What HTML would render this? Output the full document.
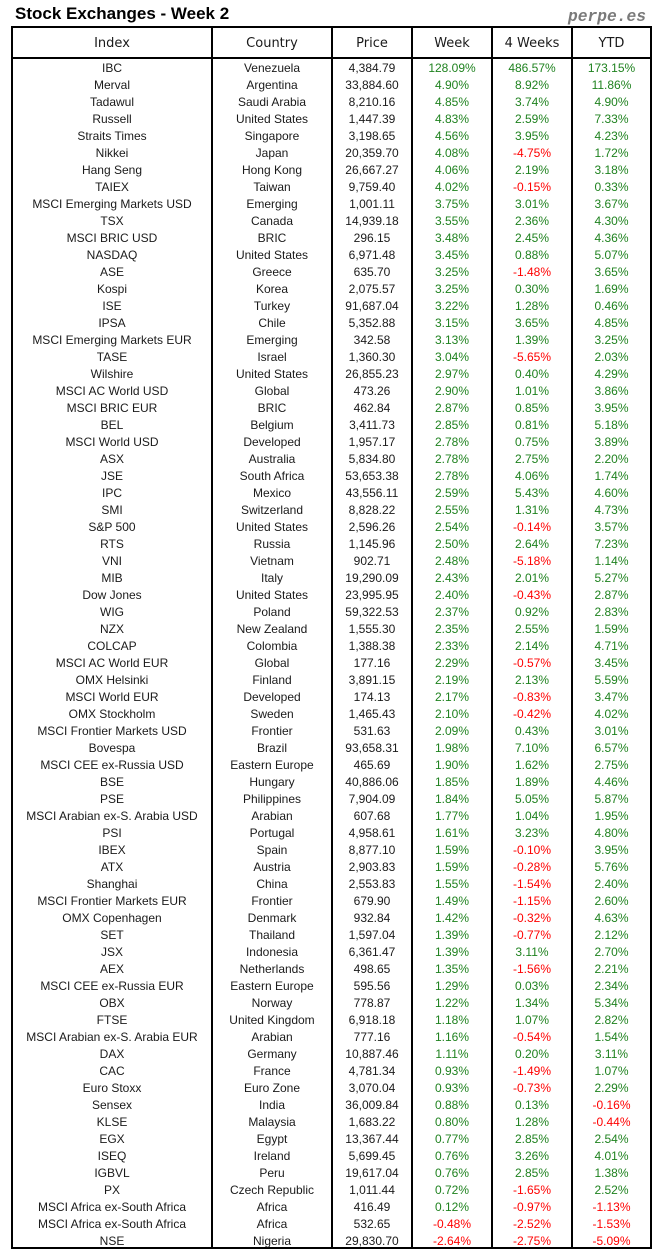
<!DOCTYPE html>
<html><head><meta charset="utf-8">
<style>
*{margin:0;padding:0;box-sizing:border-box}
body{width:664px;height:1260px;background:#fff;position:relative;overflow:hidden;font-family:"Liberation Sans",sans-serif;color:#1a1a1a}
.t{position:absolute;left:15px;top:4px;font:bold 17px/1.149 "Liberation Sans",sans-serif;color:#000;white-space:nowrap}
.p{position:absolute;left:568px;top:6.5px;font:italic bold 16.25px "Liberation Mono",monospace;color:#7a7a7a;white-space:nowrap}
.b{position:absolute;background:#000}
.h{position:absolute;left:12px;top:29px;height:29px;display:grid;grid-template-columns:200px 120px 80px 80px 80px 79px;font-family:"DejaVu Sans",sans-serif;font-size:13px;line-height:29px;text-align:center;color:#1a1a1a}
.rows{position:absolute;left:12px;top:60px}
.r{display:grid;grid-template-columns:200px 120px 80px 80px 80px 79px;height:17px;line-height:17px;font-size:12px;text-align:center;white-space:nowrap}
.g{color:#1f821f}
.n{color:#ff0000}
</style></head><body>
<div class="t">Stock Exchanges - Week 2</div>
<div class="p">perpe.es</div>
<div class="b" style="left:11px;top:26px;width:641px;height:2px"></div>
<div class="b" style="left:11px;top:57px;width:641px;height:2px"></div>
<div class="b" style="left:11px;top:1247px;width:641px;height:2px"></div>
<div class="b" style="left:11px;top:26px;width:2px;height:1223px"></div>
<div class="b" style="left:650px;top:26px;width:2px;height:1223px"></div>
<div class="b" style="left:211px;top:26px;width:2px;height:1223px"></div>
<div class="b" style="left:331px;top:26px;width:2px;height:1223px"></div>
<div class="b" style="left:411px;top:26px;width:2px;height:1223px"></div>
<div class="b" style="left:491px;top:26px;width:2px;height:1223px"></div>
<div class="b" style="left:571px;top:26px;width:2px;height:1223px"></div>
<div class="h"><span>Index</span><span>Country</span><span>Price</span><span>Week</span><span>4 Weeks</span><span>YTD</span></div>
<div class="rows">
<div class="r"><span>IBC</span><span>Venezuela</span><span>4,384.79</span><span class="g">128.09%</span><span class="g">486.57%</span><span class="g">173.15%</span></div>
<div class="r"><span>Merval</span><span>Argentina</span><span>33,884.60</span><span class="g">4.90%</span><span class="g">8.92%</span><span class="g">11.86%</span></div>
<div class="r"><span>Tadawul</span><span>Saudi Arabia</span><span>8,210.16</span><span class="g">4.85%</span><span class="g">3.74%</span><span class="g">4.90%</span></div>
<div class="r"><span>Russell</span><span>United States</span><span>1,447.39</span><span class="g">4.83%</span><span class="g">2.59%</span><span class="g">7.33%</span></div>
<div class="r"><span>Straits Times</span><span>Singapore</span><span>3,198.65</span><span class="g">4.56%</span><span class="g">3.95%</span><span class="g">4.23%</span></div>
<div class="r"><span>Nikkei</span><span>Japan</span><span>20,359.70</span><span class="g">4.08%</span><span class="n">-4.75%</span><span class="g">1.72%</span></div>
<div class="r"><span>Hang Seng</span><span>Hong Kong</span><span>26,667.27</span><span class="g">4.06%</span><span class="g">2.19%</span><span class="g">3.18%</span></div>
<div class="r"><span>TAIEX</span><span>Taiwan</span><span>9,759.40</span><span class="g">4.02%</span><span class="n">-0.15%</span><span class="g">0.33%</span></div>
<div class="r"><span>MSCI Emerging Markets USD</span><span>Emerging</span><span>1,001.11</span><span class="g">3.75%</span><span class="g">3.01%</span><span class="g">3.67%</span></div>
<div class="r"><span>TSX</span><span>Canada</span><span>14,939.18</span><span class="g">3.55%</span><span class="g">2.36%</span><span class="g">4.30%</span></div>
<div class="r"><span>MSCI BRIC USD</span><span>BRIC</span><span>296.15</span><span class="g">3.48%</span><span class="g">2.45%</span><span class="g">4.36%</span></div>
<div class="r"><span>NASDAQ</span><span>United States</span><span>6,971.48</span><span class="g">3.45%</span><span class="g">0.88%</span><span class="g">5.07%</span></div>
<div class="r"><span>ASE</span><span>Greece</span><span>635.70</span><span class="g">3.25%</span><span class="n">-1.48%</span><span class="g">3.65%</span></div>
<div class="r"><span>Kospi</span><span>Korea</span><span>2,075.57</span><span class="g">3.25%</span><span class="g">0.30%</span><span class="g">1.69%</span></div>
<div class="r"><span>ISE</span><span>Turkey</span><span>91,687.04</span><span class="g">3.22%</span><span class="g">1.28%</span><span class="g">0.46%</span></div>
<div class="r"><span>IPSA</span><span>Chile</span><span>5,352.88</span><span class="g">3.15%</span><span class="g">3.65%</span><span class="g">4.85%</span></div>
<div class="r"><span>MSCI Emerging Markets EUR</span><span>Emerging</span><span>342.58</span><span class="g">3.13%</span><span class="g">1.39%</span><span class="g">3.25%</span></div>
<div class="r"><span>TASE</span><span>Israel</span><span>1,360.30</span><span class="g">3.04%</span><span class="n">-5.65%</span><span class="g">2.03%</span></div>
<div class="r"><span>Wilshire</span><span>United States</span><span>26,855.23</span><span class="g">2.97%</span><span class="g">0.40%</span><span class="g">4.29%</span></div>
<div class="r"><span>MSCI AC World USD</span><span>Global</span><span>473.26</span><span class="g">2.90%</span><span class="g">1.01%</span><span class="g">3.86%</span></div>
<div class="r"><span>MSCI BRIC EUR</span><span>BRIC</span><span>462.84</span><span class="g">2.87%</span><span class="g">0.85%</span><span class="g">3.95%</span></div>
<div class="r"><span>BEL</span><span>Belgium</span><span>3,411.73</span><span class="g">2.85%</span><span class="g">0.81%</span><span class="g">5.18%</span></div>
<div class="r"><span>MSCI World USD</span><span>Developed</span><span>1,957.17</span><span class="g">2.78%</span><span class="g">0.75%</span><span class="g">3.89%</span></div>
<div class="r"><span>ASX</span><span>Australia</span><span>5,834.80</span><span class="g">2.78%</span><span class="g">2.75%</span><span class="g">2.20%</span></div>
<div class="r"><span>JSE</span><span>South Africa</span><span>53,653.38</span><span class="g">2.78%</span><span class="g">4.06%</span><span class="g">1.74%</span></div>
<div class="r"><span>IPC</span><span>Mexico</span><span>43,556.11</span><span class="g">2.59%</span><span class="g">5.43%</span><span class="g">4.60%</span></div>
<div class="r"><span>SMI</span><span>Switzerland</span><span>8,828.22</span><span class="g">2.55%</span><span class="g">1.31%</span><span class="g">4.73%</span></div>
<div class="r"><span>S&amp;P 500</span><span>United States</span><span>2,596.26</span><span class="g">2.54%</span><span class="n">-0.14%</span><span class="g">3.57%</span></div>
<div class="r"><span>RTS</span><span>Russia</span><span>1,145.96</span><span class="g">2.50%</span><span class="g">2.64%</span><span class="g">7.23%</span></div>
<div class="r"><span>VNI</span><span>Vietnam</span><span>902.71</span><span class="g">2.48%</span><span class="n">-5.18%</span><span class="g">1.14%</span></div>
<div class="r"><span>MIB</span><span>Italy</span><span>19,290.09</span><span class="g">2.43%</span><span class="g">2.01%</span><span class="g">5.27%</span></div>
<div class="r"><span>Dow Jones</span><span>United States</span><span>23,995.95</span><span class="g">2.40%</span><span class="n">-0.43%</span><span class="g">2.87%</span></div>
<div class="r"><span>WIG</span><span>Poland</span><span>59,322.53</span><span class="g">2.37%</span><span class="g">0.92%</span><span class="g">2.83%</span></div>
<div class="r"><span>NZX</span><span>New Zealand</span><span>1,555.30</span><span class="g">2.35%</span><span class="g">2.55%</span><span class="g">1.59%</span></div>
<div class="r"><span>COLCAP</span><span>Colombia</span><span>1,388.38</span><span class="g">2.33%</span><span class="g">2.14%</span><span class="g">4.71%</span></div>
<div class="r"><span>MSCI AC World EUR</span><span>Global</span><span>177.16</span><span class="g">2.29%</span><span class="n">-0.57%</span><span class="g">3.45%</span></div>
<div class="r"><span>OMX Helsinki</span><span>Finland</span><span>3,891.15</span><span class="g">2.19%</span><span class="g">2.13%</span><span class="g">5.59%</span></div>
<div class="r"><span>MSCI World EUR</span><span>Developed</span><span>174.13</span><span class="g">2.17%</span><span class="n">-0.83%</span><span class="g">3.47%</span></div>
<div class="r"><span>OMX Stockholm</span><span>Sweden</span><span>1,465.43</span><span class="g">2.10%</span><span class="n">-0.42%</span><span class="g">4.02%</span></div>
<div class="r"><span>MSCI Frontier Markets USD</span><span>Frontier</span><span>531.63</span><span class="g">2.09%</span><span class="g">0.43%</span><span class="g">3.01%</span></div>
<div class="r"><span>Bovespa</span><span>Brazil</span><span>93,658.31</span><span class="g">1.98%</span><span class="g">7.10%</span><span class="g">6.57%</span></div>
<div class="r"><span>MSCI CEE ex-Russia USD</span><span>Eastern Europe</span><span>465.69</span><span class="g">1.90%</span><span class="g">1.62%</span><span class="g">2.75%</span></div>
<div class="r"><span>BSE</span><span>Hungary</span><span>40,886.06</span><span class="g">1.85%</span><span class="g">1.89%</span><span class="g">4.46%</span></div>
<div class="r"><span>PSE</span><span>Philippines</span><span>7,904.09</span><span class="g">1.84%</span><span class="g">5.05%</span><span class="g">5.87%</span></div>
<div class="r"><span>MSCI Arabian ex-S. Arabia USD</span><span>Arabian</span><span>607.68</span><span class="g">1.77%</span><span class="g">1.04%</span><span class="g">1.95%</span></div>
<div class="r"><span>PSI</span><span>Portugal</span><span>4,958.61</span><span class="g">1.61%</span><span class="g">3.23%</span><span class="g">4.80%</span></div>
<div class="r"><span>IBEX</span><span>Spain</span><span>8,877.10</span><span class="g">1.59%</span><span class="n">-0.10%</span><span class="g">3.95%</span></div>
<div class="r"><span>ATX</span><span>Austria</span><span>2,903.83</span><span class="g">1.59%</span><span class="n">-0.28%</span><span class="g">5.76%</span></div>
<div class="r"><span>Shanghai</span><span>China</span><span>2,553.83</span><span class="g">1.55%</span><span class="n">-1.54%</span><span class="g">2.40%</span></div>
<div class="r"><span>MSCI Frontier Markets EUR</span><span>Frontier</span><span>679.90</span><span class="g">1.49%</span><span class="n">-1.15%</span><span class="g">2.60%</span></div>
<div class="r"><span>OMX Copenhagen</span><span>Denmark</span><span>932.84</span><span class="g">1.42%</span><span class="n">-0.32%</span><span class="g">4.63%</span></div>
<div class="r"><span>SET</span><span>Thailand</span><span>1,597.04</span><span class="g">1.39%</span><span class="n">-0.77%</span><span class="g">2.12%</span></div>
<div class="r"><span>JSX</span><span>Indonesia</span><span>6,361.47</span><span class="g">1.39%</span><span class="g">3.11%</span><span class="g">2.70%</span></div>
<div class="r"><span>AEX</span><span>Netherlands</span><span>498.65</span><span class="g">1.35%</span><span class="n">-1.56%</span><span class="g">2.21%</span></div>
<div class="r"><span>MSCI CEE ex-Russia EUR</span><span>Eastern Europe</span><span>595.56</span><span class="g">1.29%</span><span class="g">0.03%</span><span class="g">2.34%</span></div>
<div class="r"><span>OBX</span><span>Norway</span><span>778.87</span><span class="g">1.22%</span><span class="g">1.34%</span><span class="g">5.34%</span></div>
<div class="r"><span>FTSE</span><span>United Kingdom</span><span>6,918.18</span><span class="g">1.18%</span><span class="g">1.07%</span><span class="g">2.82%</span></div>
<div class="r"><span>MSCI Arabian ex-S. Arabia EUR</span><span>Arabian</span><span>777.16</span><span class="g">1.16%</span><span class="n">-0.54%</span><span class="g">1.54%</span></div>
<div class="r"><span>DAX</span><span>Germany</span><span>10,887.46</span><span class="g">1.11%</span><span class="g">0.20%</span><span class="g">3.11%</span></div>
<div class="r"><span>CAC</span><span>France</span><span>4,781.34</span><span class="g">0.93%</span><span class="n">-1.49%</span><span class="g">1.07%</span></div>
<div class="r"><span>Euro Stoxx</span><span>Euro Zone</span><span>3,070.04</span><span class="g">0.93%</span><span class="n">-0.73%</span><span class="g">2.29%</span></div>
<div class="r"><span>Sensex</span><span>India</span><span>36,009.84</span><span class="g">0.88%</span><span class="g">0.13%</span><span class="n">-0.16%</span></div>
<div class="r"><span>KLSE</span><span>Malaysia</span><span>1,683.22</span><span class="g">0.80%</span><span class="g">1.28%</span><span class="n">-0.44%</span></div>
<div class="r"><span>EGX</span><span>Egypt</span><span>13,367.44</span><span class="g">0.77%</span><span class="g">2.85%</span><span class="g">2.54%</span></div>
<div class="r"><span>ISEQ</span><span>Ireland</span><span>5,699.45</span><span class="g">0.76%</span><span class="g">3.26%</span><span class="g">4.01%</span></div>
<div class="r"><span>IGBVL</span><span>Peru</span><span>19,617.04</span><span class="g">0.76%</span><span class="g">2.85%</span><span class="g">1.38%</span></div>
<div class="r"><span>PX</span><span>Czech Republic</span><span>1,011.44</span><span class="g">0.72%</span><span class="n">-1.65%</span><span class="g">2.52%</span></div>
<div class="r"><span>MSCI Africa ex-South Africa</span><span>Africa</span><span>416.49</span><span class="g">0.12%</span><span class="n">-0.97%</span><span class="n">-1.13%</span></div>
<div class="r"><span>MSCI Africa ex-South Africa</span><span>Africa</span><span>532.65</span><span class="n">-0.48%</span><span class="n">-2.52%</span><span class="n">-1.53%</span></div>
<div class="r"><span>NSE</span><span>Nigeria</span><span>29,830.70</span><span class="n">-2.64%</span><span class="n">-2.75%</span><span class="n">-5.09%</span></div>
</div>
</body></html>
